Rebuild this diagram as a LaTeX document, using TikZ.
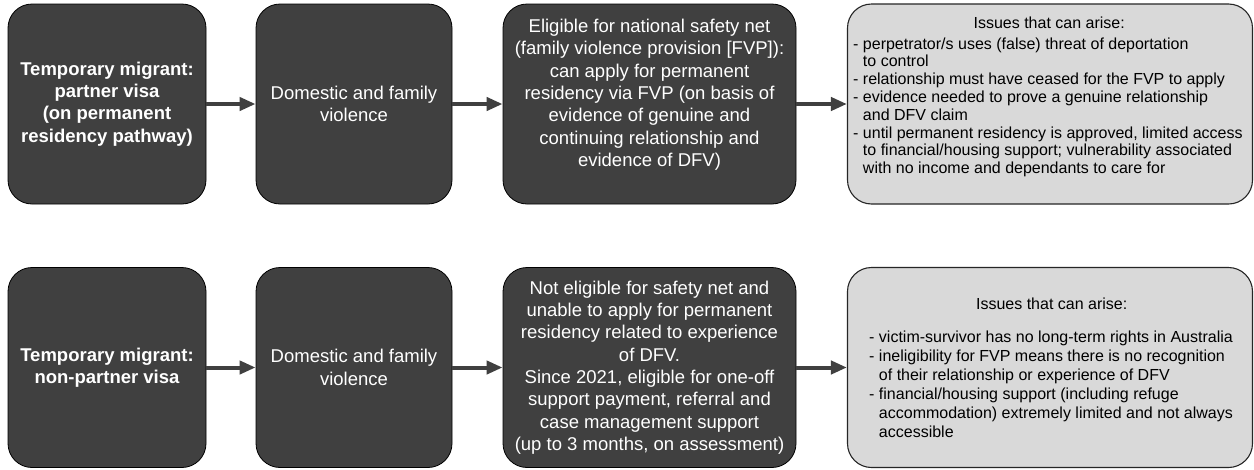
\documentclass[tikz,border=0pt]{standalone}
\usepackage{fontspec}
\setmainfont{Liberation Sans}
\usetikzlibrary{arrows.meta}
\definecolor{darkfill}{HTML}{404040}
\definecolor{lightfill}{HTML}{D9D9D9}
\definecolor{arrowcol}{HTML}{404040}
\begin{document}
\begin{tikzpicture}[x=1pt,y=-1pt,
  darkbox/.style={draw=black, line width=0.8pt, fill=darkfill, rounded corners=24pt,
    text=white, align=center, inner sep=0pt, minimum height=200pt,
    font=\fontsize{18.5}{22.3}\selectfont},
  boldbox/.style={darkbox, font=\bfseries\fontsize{18.5}{22.3}\selectfont},
  lightbox/.style={draw=black!85, line width=1.1pt, fill=lightfill, rounded corners=24pt,
    inner sep=0pt, minimum height=200pt, minimum width=405pt},
  issuetext/.style={anchor=base west, inner sep=0pt, text=black},
  flow/.style={draw=arrowcol, line width=4pt, -{Triangle[length=16pt,width=13pt]}}]
\fill[white] (0,0) rectangle (1254,469);
\useasboundingbox (0,0) rectangle (1254,469);

% top row
\node[boldbox, minimum width=198pt] (a1) at (107,104)
  {Temporary migrant:\\partner visa\\(on permanent\\residency pathway)};
\node[darkbox, minimum width=196pt] (b1) at (354,104)
  {Domestic and family\\violence};
\node[darkbox, minimum width=293pt] (c1) at (649.5,104)
  {Eligible for national safety net\\(family violence provision [FVP]):\\can apply for permanent\\residency via FVP (on basis of\\evidence of genuine and\\continuing relationship and\\evidence of DFV)\\\mbox{}};
\node[lightbox] (d1) at (1050,104) {};
\node[issuetext] (t1) at (853,28) {\parbox[t]{392pt}{\fontsize{16}{17.8}\selectfont
  \makebox[392pt]{Issues that can arise:}\\[3.2pt]
  - perpetrator/s uses (false) threat of deportation\\
  \phantom{- }to control\\
  - relationship must have ceased for the FVP to apply\\
  - evidence needed to prove a genuine relationship\\
  \phantom{- }and DFV claim\\
  - until permanent residency is approved, limited access\\
  \phantom{- }to financial/housing support; vulnerability associated\\
  \phantom{- }with no income and dependants to care for}};

% bottom row
\node[boldbox, minimum width=198pt] (a2) at (107,367.5)
  {Temporary migrant:\\non-partner visa};
\node[darkbox, minimum width=196pt] (b2) at (354,367.5)
  {Domestic and family\\violence};
\node[darkbox, minimum width=293pt] (c2) at (649.5,367.5)
  {Not eligible for safety net and\\unable to apply for permanent\\residency related to experience\\of DFV.\\Since 2021, eligible for one-off\\support payment, referral and\\case management support\\(up to 3 months, on assessment)};
\node[lightbox] (d2) at (1050,367.5) {};
\node[issuetext] (t2) at (869,309.6) {\parbox[t]{365pt}{\fontsize{16}{19.1}\selectfont
  \makebox[365pt]{Issues that can arise:}\\[13.3pt]
  - victim-survivor has no long-term rights in Australia\\
  - ineligibility for FVP means there is no recognition\\
  \phantom{- }of their relationship or experience of DFV\\
  - financial/housing support (including refuge\\
  \phantom{- }accommodation) extremely limited and not always\\
  \phantom{- }accessible}};

% connectors
\draw[flow] (a1) -- (b1);
\draw[flow] (b1) -- (c1);
\draw[flow] (c1) -- (d1);
\draw[flow] (a2) -- (b2);
\draw[flow] (b2) -- (c2);
\draw[flow] (c2) -- (d2);
\end{tikzpicture}
\end{document}
